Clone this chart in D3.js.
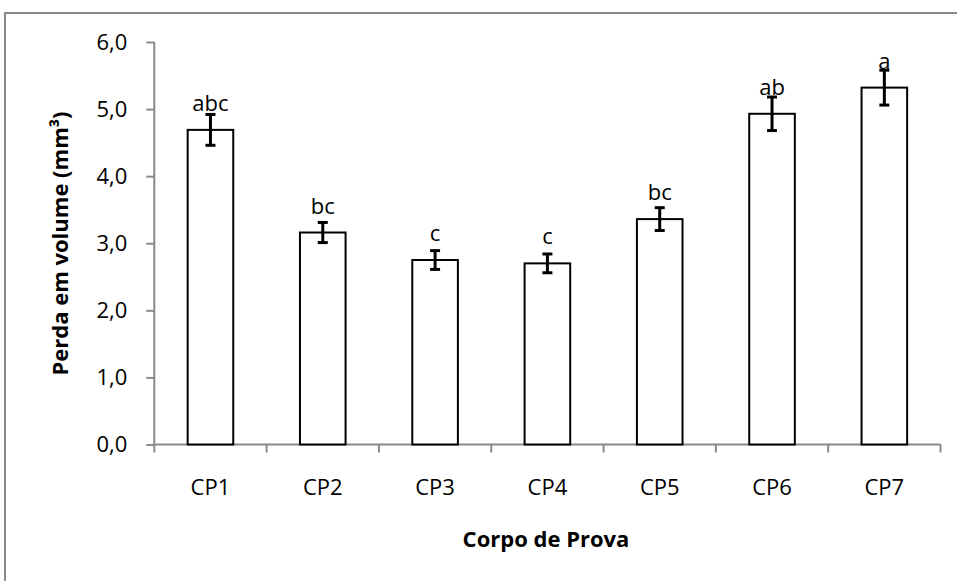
<!DOCTYPE html>
<html>
<head>
<meta charset="utf-8">
<script src="https://cdn.jsdelivr.net/npm/d3@7"></script>
<style>
  html, body { margin: 0; padding: 0; background: #fff; }
  svg { display: block; font-family: "Open Sans", sans-serif; }
</style>
</head>
<body>
<svg id="chart" width="957" height="581"></svg>
<script>
// Volume loss per specimen, with standard error and significance letters
const categories = ["CP1", "CP2", "CP3", "CP4", "CP5", "CP6", "CP7"];
const values     = [4.69, 3.16, 2.75, 2.70, 3.36, 4.93, 5.32];
const errors     = [0.23, 0.15, 0.14, 0.14, 0.17, 0.25, 0.26];
const letters    = ["abc", "bc", "c", "c", "bc", "ab", "a"];
const yTicks     = [0, 1, 2, 3, 4, 5, 6];

const svg = d3.select("#chart");
const axisColor = "#898989";

// outer frame of the chart area
svg.append("rect")
  .attr("x", 5).attr("y", 13)
  .attr("width", 1000).attr("height", 700)
  .attr("fill", "#fff")
  .attr("stroke", axisColor).attr("stroke-width", 2);

const plot = { left: 154.3, right: 940.5, top: 42, bottom: 444.5 };

const x = d3.scaleBand()
  .domain(categories)
  .range([plot.left, plot.right])
  .paddingInner(0.594).paddingOuter(0.297);

const band = d3.scaleBand().domain(categories).range([plot.left, plot.right]);

const y = d3.scaleLinear().domain([0, 6]).range([plot.bottom, plot.top]);

// y axis
const yAxis = d3.axisLeft(y)
  .tickValues(yTicks)
  .tickSize(8)
  .tickPadding(19)
  .tickFormat(d => d3.format(".1f")(d).replace(".", ","));

const gy = svg.append("g")
  .attr("transform", `translate(${plot.left},0)`)
  .call(yAxis);
gy.select(".domain").attr("stroke", axisColor).attr("stroke-width", 2)
  .attr("d", `M0,${plot.bottom}V${plot.top}`);
gy.selectAll(".tick line").attr("stroke", axisColor).attr("stroke-width", 2);
gy.selectAll(".tick text")
  .attr("fill", "#000")
  .style("font-size", "22px")
  .style("font-family", "'Open Sans', sans-serif");

// x axis: ticks at category boundaries
const gx = svg.append("g").attr("transform", `translate(0,${plot.bottom})`);
gx.append("line")
  .attr("x1", plot.left).attr("x2", plot.right)
  .attr("stroke", axisColor).attr("stroke-width", 2);
const edges = categories.map(c => band(c)).concat([plot.right]);
gx.selectAll("line.edge").data(edges).join("line")
  .attr("class", "edge")
  .attr("x1", d => d).attr("x2", d => d)
  .attr("y1", 0).attr("y2", 8)
  .attr("stroke", axisColor).attr("stroke-width", 2);
gx.selectAll("text").data(categories).join("text")
  .attr("x", d => band(d) + band.bandwidth() / 2)
  .attr("y", 50.5)
  .attr("text-anchor", "middle")
  .style("font-size", "22px")
  .text(d => d);

// bars
svg.append("g").selectAll("rect").data(categories).join("rect")
  .attr("x", d => x(d))
  .attr("width", x.bandwidth())
  .attr("y", (d, i) => y(values[i]))
  .attr("height", (d, i) => y(0) - y(values[i]))
  .attr("fill", "#fff")
  .attr("stroke", "#000")
  .attr("stroke-width", 2);

// error bars
const cap = 5;
const eg = svg.append("g").attr("stroke", "#000").attr("stroke-width", 3);
categories.forEach((c, i) => {
  const cx = x(c) + x.bandwidth() / 2;
  const hi = y(values[i] + errors[i]);
  const lo = y(values[i] - errors[i]);
  eg.append("line").attr("x1", cx).attr("x2", cx).attr("y1", hi).attr("y2", lo);
  eg.append("line").attr("x1", cx - cap).attr("x2", cx + cap).attr("y1", hi).attr("y2", hi);
  eg.append("line").attr("x1", cx - cap).attr("x2", cx + cap).attr("y1", lo).attr("y2", lo);
});

// significance letters above each bar
svg.append("g").selectAll("text").data(categories).join("text")
  .attr("x", d => x(d) + x.bandwidth() / 2)
  .attr("y", (d, i) => y(values[i]) - 19)
  .attr("text-anchor", "middle")
  .style("font-size", "22px")
  .text((d, i) => letters[i]);

// axis titles
svg.append("text")
  .attr("transform", "translate(68,243.5) rotate(-90)")
  .attr("text-anchor", "middle")
  .style("font-size", "22px")
  .style("font-weight", "bold")
  .text("Perda em volume (mm³)");

svg.append("text")
  .attr("x", 546).attr("y", 546.7)
  .attr("text-anchor", "middle")
  .style("font-size", "22px")
  .style("font-weight", "bold")
  .text("Corpo de Prova");
</script>
</body>
</html>
